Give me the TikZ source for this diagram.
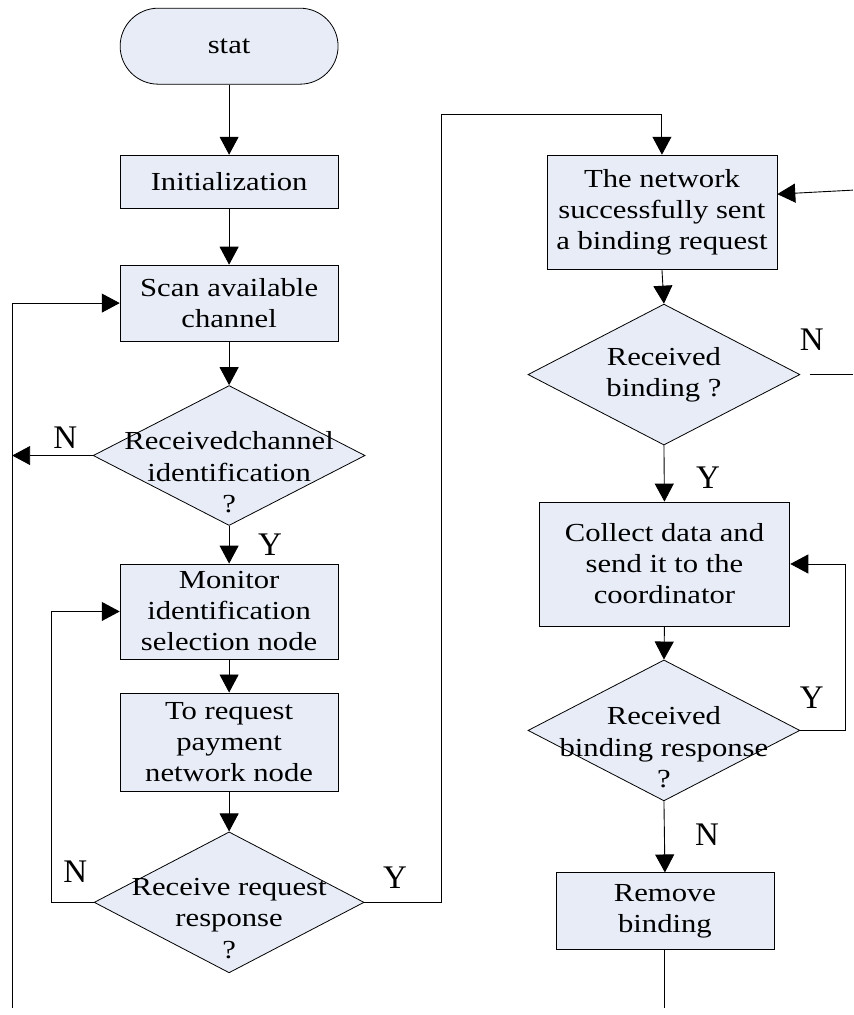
\documentclass[tikz,border=0pt]{standalone}
\usepackage{fontspec}
\setmainfont{Liberation Serif}[FakeStretch=1.18]
\newfontfamily\labelfont{Liberation Serif}
\usepackage{tikz}
\usepackage{xcolor}
\usetikzlibrary{calc}
\usetikzlibrary{arrows.meta, shapes.geometric, calc}
\definecolor{boxfill}{RGB}{231,236,247}

\begin{document}
\begin{tikzpicture}[x=1pt,y=1pt,
  box/.style={draw=black, fill=boxfill, line width=0.8pt, inner sep=0pt, align=center,
    font=\fontsize{26}{31}\selectfont},
  decision/.style={draw=black, fill=boxfill, line width=0.8pt, diamond, inner sep=0pt},
  dtext/.style={align=center, inner sep=0pt, font=\fontsize{26}{31.5}\selectfont},
  yn/.style={inner sep=0pt, font=\labelfont\fontsize{33}{33}\selectfont},
  flow/.style={line width=0.9pt, -{Triangle[length=18pt,width=19pt]}}]
\filldraw[color=white] (0.000000, -1015.000000) rectangle (853.000000, 0.000000);
% Drawing boxes
% Column 1: start to request
\node[box, rounded corners=38pt, minimum width=218pt, minimum height=76pt] (start) at (229.000000, -46.000000) {stat};
\node[box, minimum width=218pt, minimum height=53pt] (init) at (229.000000, -181.500000) {Initialization};
\node[box, minimum width=218pt, minimum height=76pt] (scan) at (229.000000, -303.000000) {Scan available\\channel};
\node[decision, minimum width=272pt, minimum height=140pt] (chan) at (229.000000, -455.500000) {};
\node[dtext] (chantext) at ([yshift=-17pt]chan.center) {Receivedchannel\\identification\\?};
\node[box, minimum width=218pt, minimum height=95pt] (monitor) at (229.000000, -611.500000) {Monitor\\identification\\selection node};
\node[box, minimum width=218pt, minimum height=99pt] (request) at (229.000000, -742.500000) {To request\\payment\\network node};
\node[decision, minimum width=270pt, minimum height=141pt] (reply) at (229.000000, -902.500000) {};
\node[dtext] (replytext) at ([yshift=-16pt]reply.center) {Receive request\\response\\?};
% Column 2: network to remove
\node[box, minimum width=230pt, minimum height=114pt] (net) at (662.000000, -212.000000) {The network\\successfully sent\\a binding request};
\node[decision, minimum width=272pt, minimum height=141pt] (bind) at (664.000000, -374.500000) {};
\node[dtext] (bindtext) at (bind.center) {Received\\binding ?};
\node[box, minimum width=251pt, minimum height=124pt] (collect) at (664.500000, -564.000000) {Collect data and\\send it to the\\coordinator};
\node[decision, minimum width=272pt, minimum height=141pt] (resp) at (664.000000, -730.500000) {};
\node[dtext] (resptext) at ([yshift=-17pt]resp.center) {Received\\binding response\\?};
\node[box, minimum width=218pt, minimum height=77pt] (remove) at (665.000000, -911.500000) {Remove\\binding};
% Done with boxes; drawing arrows
\coordinate (leftbot) at (12.000000, -1008.000000);
\coordinate (ybend) at (441.000000, -114.000000);
\coordinate (netin) at (853.000000, -190.000000);
\coordinate (bindout) at (853.000000, -374.500000);
\coordinate (rembot) at (665.000000, -1008.000000);
\draw[flow] (start) -- (init);
\draw[flow] (init) -- (scan);
\draw[flow] (scan) -- (chan.north);
\draw[flow] (chan.south) -- (monitor);
\draw[flow] (monitor) -- (request);
\draw[flow] (request) -- (reply.north);
\draw[flow] (chan.west) -- (chan.west -| leftbot);
\draw[flow] (leftbot) |- (scan.west);
\draw[flow] (reply.west) -- ++(-42.000000, 0.000000) |- (monitor.west);
\draw[flow] (reply.east) -| (ybend) -| (net.north);
\draw[flow] (netin) -- ([yshift=18pt]net.east);
\draw[flow] (net.south) -- (bind.north);
\draw[line width=0.9pt] ([xshift=10pt]bind.east) -- (bindout);
\draw[flow] (bind.south) -- (collect.north);
\draw[flow] (collect.south) -- (resp.north);
\draw[flow] (resp.east) -- ++(45.000000, 0.000000) |- (collect.east);
\draw[flow] (resp.south) -- (remove.north);
\draw[line width=0.9pt] (remove.south) -- (rembot);
% Done with arrows; drawing Y/N labels
\node[yn] (n1) at (65.000000, -438.000000) {N};
\node[yn] (y1) at (270.000000, -545.000000) {Y};
\node[yn] (n2) at (75.000000, -872.000000) {N};
\node[yn] (y2) at (395.000000, -878.000000) {Y};
\node[yn] (n3) at (812.000000, -340.000000) {N};
\node[yn] (y3) at (708.000000, -478.000000) {Y};
\node[yn] (y4) at (812.000000, -698.000000) {Y};
\node[yn] (n4) at (707.000000, -835.000000) {N};
% Done with labels
\end{tikzpicture}
\end{document}
